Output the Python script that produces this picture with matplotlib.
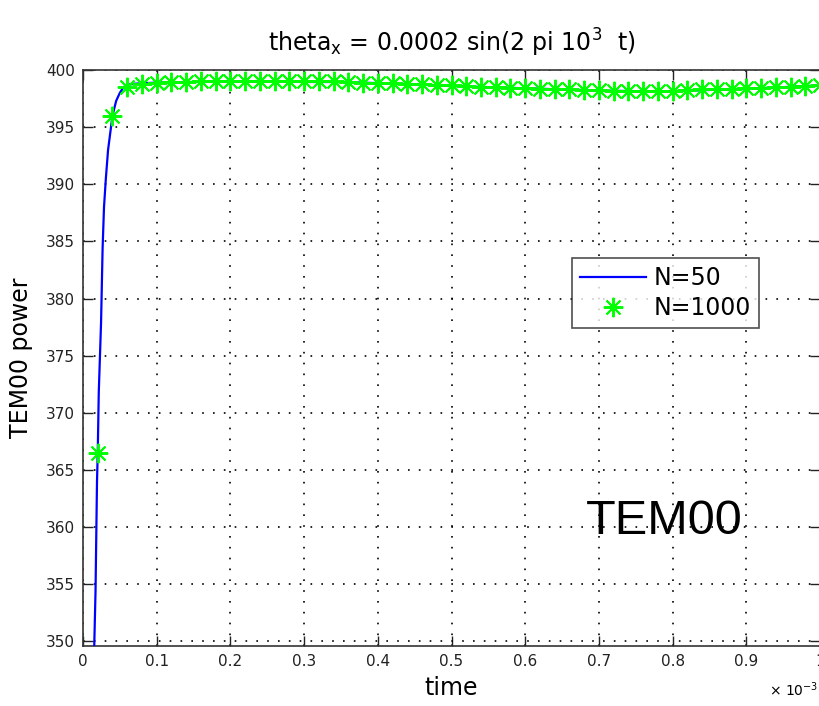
import matplotlib
matplotlib.use("Agg")
import matplotlib.pyplot as plt
from matplotlib.ticker import FuncFormatter, MultipleLocator

plt.rcParams['font.family'] = ['DejaVu Sans']

# N=1000 samples (time in seconds, power)
t_1000 = [k * 0.02e-3 for k in range(1, 51)]
p_1000 = [366.5, 396.0, 398.5, 398.8, 398.9, 398.95, 398.95, 399.0, 399.0, 399.0,
          399.0, 399.0, 399.0, 399.0, 399.0, 399.0, 399.0, 398.95, 398.9, 398.85,
          398.85, 398.8, 398.75, 398.7, 398.65, 398.6, 398.55, 398.5, 398.45, 398.4,
          398.35, 398.3, 398.3, 398.25, 398.25, 398.2, 398.2, 398.2, 398.2, 398.2,
          398.25, 398.3, 398.3, 398.35, 398.4, 398.45, 398.5, 398.55, 398.6, 398.65]

# N=50 curve
t_50 = [0.0e-3, 0.012e-3, 0.0154e-3, 0.017e-3, 0.019e-3, 0.020e-3, 0.0214e-3, 0.0245e-3,
        0.0266e-3, 0.0285e-3, 0.031e-3, 0.034e-3, 0.037e-3, 0.040e-3, 0.045e-3,
        0.050e-3, 0.055e-3, 0.060e-3, 0.070e-3, 0.10e-3, 0.15e-3, 0.20e-3, 0.25e-3,
        0.30e-3, 0.35e-3, 0.40e-3, 0.45e-3, 0.50e-3, 0.55e-3, 0.60e-3, 0.65e-3,
        0.70e-3, 0.75e-3, 0.80e-3, 0.85e-3, 0.90e-3, 0.95e-3, 1.00e-3]
p_50 = [300.0, 340.0, 350.0, 354.4, 364.0, 366.5, 371.8, 377.9,
        384.4, 388.0, 390.5, 393.0, 394.5, 396.0, 397.3,
        398.0, 398.5, 398.7, 398.8, 398.9, 398.95, 399.0, 399.0,
        398.95, 398.95, 398.85, 398.75, 398.6, 398.5, 398.4, 398.3,
        398.2, 398.15, 398.15, 398.25, 398.35, 398.5, 398.65]

fig = plt.figure(figsize=(8.19, 7.06), dpi=100)
ax = fig.add_axes([83/819, (706-646)/706, (820-83)/819, (646-70)/706])

ax.plot(t_50, p_50, color=(0, 0, 1), lw=1.6, label='N=50', zorder=3)
ax.plot(t_1000, p_1000, linestyle='none', marker=(8, 2, 0), markersize=14,
        markeredgewidth=1.4, color=(0, 1, 0), label='N=1000', zorder=5)

ax.set_xlim(0, 1e-3)
ax.set_ylim(349.6, 400)
ax.xaxis.set_major_locator(MultipleLocator(0.1e-3))
ax.yaxis.set_major_locator(MultipleLocator(5))
ax.xaxis.set_major_formatter(FuncFormatter(lambda v, p: '%g' % round(v / 1e-3, 6)))
ax.grid(True, color='black', linestyle=(0, (1, 5.5)), linewidth=1.2)
ax.tick_params(direction='in', top=True, right=True, length=7, width=1,
               labelsize=11, colors='#222222', pad=6)
for s in ax.spines.values():
    s.set_color('#333333')
    s.set_linewidth(1.2)

ax.set_title(r'theta$_{\mathregular{x}}$ = 0.0002 sin(2 pi 10$^{\mathregular{3}}$  t)',
             fontsize=17, pad=13)
ax.set_xlabel('time', fontsize=17, labelpad=5)
ax.set_ylabel('TEM00 power', fontsize=17, labelpad=9)

fig.text(818/819, 1 - 690/706, r'$\times$ 10$^{\mathregular{-3}}$', fontsize=10,
         ha='right', va='center')

ax.text(0.682e-3, 360.5, 'TEM00', fontsize=35, ha='left', va='center',
        family='Liberation Sans')

leg = ax.legend(loc='upper left', bbox_to_anchor=((572 - 83) / 737, 1 - (258 - 70) / 576),
                fontsize=17, frameon=True, fancybox=False, borderpad=0.35,
                handlelength=2.8, handletextpad=0.3, labelspacing=0.25, borderaxespad=0)
leg.get_frame().set_edgecolor('#222222')
leg.get_frame().set_linewidth(1.2)

fig.savefig('out.png', dpi=100, facecolor='white')
